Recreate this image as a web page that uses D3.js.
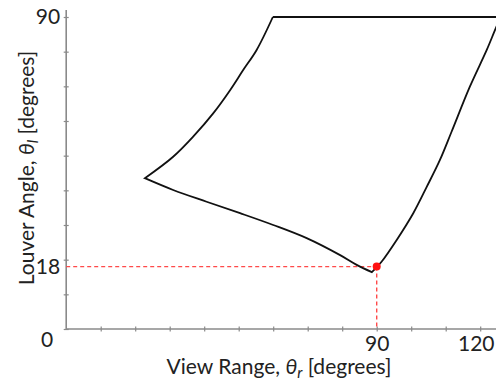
<!DOCTYPE html>
<html><head><meta charset="utf-8">
<script src="https://cdn.jsdelivr.net/npm/d3@7"></script>
<style>body{margin:0;background:#fff}svg{display:block}text{font-family:Lato,"Liberation Sans",sans-serif;fill:#222}</style>
</head><body><div id="c"></div>
<script>
// ---- data (θr = view range, θl = louver angle), degrees ----
const upperLeftR = [59.9, 55.2, 51.3, 47.5, 42.6, 36.8, 31.0, 22.8];
const upperLeftL = [90.0, 80.5, 74.7, 68.9, 62.2, 55.5, 49.7, 43.5];
const lowerR = [22.8, 31.0, 40.7, 50.4, 60.0, 69.7, 79.4, 84.2, 88.6];
const lowerL = [43.5, 40.1, 36.7, 33.4, 30.0, 26.2, 21.3, 18.5, 16.4];
const rightR = [88.6, 91.4, 95.8, 100.6, 104.5, 108.3, 111.7, 117.0, 121.9, 124.5, 126.0];
const rightL = [16.4, 19.4, 25.7, 33.4, 41.0, 48.7, 56.9, 69.9, 80.5, 86.7, 90.0];
const topR = [126.0, 59.9];
const topL = [90.0, 90.0];
const markR = 90, markL = 18;
const xTicks = [10,20,30,40,50,60,70,80,90,100,110,120];
const yTicks = [0,10,20,30,40,50,60,70,80,90];
const xTickLabels = [90, 120];
const yTickLabels = [18, 90];
const originLabel = "0";

const W = 496, H = 385;
const svg = d3.select("#c").append("svg").attr("width", W).attr("height", H);
const x = d3.scaleLinear().domain([0, 125]).range([66.2, 66.2 + 125*3.45]);
const y = d3.scaleLinear().domain([0, 90]).range([329, 17]);
const axisColor = "#8a8a8a";
const fontFam = "Lato, 'Liberation Sans', sans-serif";

// axes lines
svg.append("line").attr("x1", x(0)).attr("x2", W).attr("y1", y(0)).attr("y2", y(0))
  .attr("stroke", axisColor).attr("stroke-width", 1.6);
svg.append("line").attr("x1", x(0)).attr("x2", x(0)).attr("y1", y(0)).attr("y2", y(92))
  .attr("stroke", axisColor).attr("stroke-width", 1.6);

// ticks via d3 axes
const gx = svg.append("g").attr("transform", `translate(0,${y(0)})`)
  .call(d3.axisBottom(x).tickValues(xTicks).tickSize(3).tickFormat(""));
gx.select(".domain").remove();
gx.selectAll(".tick line").attr("y1", -2.5).attr("y2", 2.5).attr("stroke", axisColor).attr("stroke-width", 1.2);
const gy = svg.append("g").attr("transform", `translate(${x(0)},0)`)
  .call(d3.axisLeft(y).tickValues(yTicks).tickSize(3).tickFormat(""));
gy.select(".domain").remove();
gy.selectAll(".tick line").attr("x1", -2.5).attr("x2", 2.5).attr("stroke", axisColor).attr("stroke-width", 1.2);

// tick labels
const fs = 21;
const gxl = svg.append("g").attr("transform", `translate(0,${y(0)})`)
  .call(d3.axisBottom(x).tickValues(xTickLabels).tickSize(0).tickPadding(7));
gxl.select(".domain").remove();
gxl.selectAll("text").attr("font-size", fs).attr("font-family", fontFam).attr("fill", "#222")
  .filter(d => x(d) + 17 > W).attr("text-anchor", "end").attr("x", d => W - 2 - x(d));
const gyl = svg.append("g").attr("transform", `translate(${x(0)},0)`)
  .call(d3.axisLeft(y).tickValues(yTickLabels).tickSize(0).tickPadding(6));
gyl.select(".domain").remove();
gyl.selectAll("text").attr("font-size", fs).attr("font-family", fontFam).attr("fill", "#222");
svg.append("text").attr("x", x(0) - 13).attr("y", y(0) + 11).attr("dy", "0.35em")
  .attr("text-anchor", "end").attr("font-size", fs).text(originLabel);

// red guide lines
const red = "#ff4a4a";
svg.append("line").attr("x1", x(0)).attr("x2", x(markR)).attr("y1", y(markL)).attr("y2", y(markL))
  .attr("stroke", red).attr("stroke-width", 1.4).attr("stroke-dasharray", "4,3");
svg.append("line").attr("x1", x(markR)).attr("x2", x(markR)).attr("y1", y(markL)).attr("y2", y(0))
  .attr("stroke", red).attr("stroke-width", 1.4).attr("stroke-dasharray", "4,3");

// boundary curve
const segs = [
  [upperLeftR, upperLeftL], [lowerR, lowerL], [rightR, rightL], [topR, topL]
].map(([a, b]) => a.map((v, i) => [v, b[i]]));
const curved = d3.line().x(d => x(d[0])).y(d => y(d[1])).curve(d3.curveCatmullRom.alpha(0.5));
const straight = d3.line().x(d => x(d[0])).y(d => y(d[1]));
let dstr = "";
segs.forEach((s, i) => {
  let d = (s.length > 2 ? curved(s) : straight(s));
  if (i > 0) d = d.replace(/^M[^A-Za-z]*/, "");
  dstr += d;
});
svg.append("path").attr("d", dstr).attr("fill", "none").attr("stroke", "#111")
  .attr("stroke-width", 1.8).attr("stroke-linejoin", "miter");

// red point
svg.append("circle").attr("cx", x(markR)).attr("cy", y(markL)).attr("r", 4).attr("fill", "#ff1010");

// axis titles
const xt = svg.append("text").attr("x", 279).attr("y", 374).attr("text-anchor", "middle").attr("font-size", fs);
xt.append("tspan").text("View Range, ");
xt.append("tspan").attr("font-style", "italic").text("θ");
xt.append("tspan").attr("font-style", "italic").attr("font-size", 15).attr("dy", 4).text("r");
xt.append("tspan").attr("dy", -4).text(" [degrees]");

const yt = svg.append("text").attr("transform", "translate(34,168) rotate(-90)")
  .attr("text-anchor", "middle").attr("font-size", fs);
yt.append("tspan").text("Louver Angle,  ");
yt.append("tspan").attr("font-style", "italic").text("θ");
yt.append("tspan").attr("font-style", "italic").attr("font-size", 15).attr("dy", 4).text("l");
yt.append("tspan").attr("dy", -4).text(" [degrees]");
</script></body></html>
